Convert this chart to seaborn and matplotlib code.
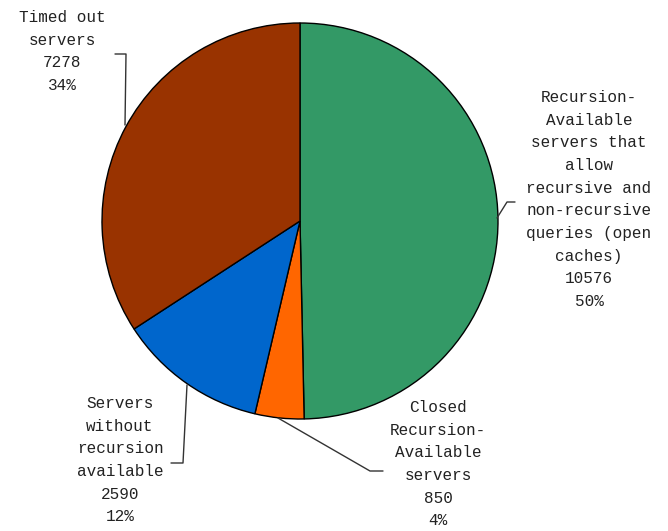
import matplotlib
matplotlib.use("Agg")
import matplotlib.pyplot as plt
import seaborn as sns

# data
labels = [
    "Recursion-\nAvailable\nservers that\nallow\nrecursive and\nnon-recursive\nqueries (open\ncaches)",
    "Closed\nRecursion-\nAvailable\nservers",
    "Servers\nwithout\nrecursion\navailable",
    "Timed out\nservers",
]
counts = [10576, 850, 2590, 7278]
colors = ["#339966", "#FF6600", "#0066CC", "#993300"]

sns.set_theme(style="white")
plt.rcParams["font.family"] = ["Liberation Mono", "DejaVu Sans Mono"]

W, H = 668, 531
fig = plt.figure(figsize=(W / 100, H / 100), dpi=100)
ax = fig.add_axes([0, 0, 1, 1])

cx, cy, r = 300, 221, 198
# y axis is inverted, so counterclock=True draws clockwise on screen
ax.pie(counts, colors=colors, startangle=-90, counterclock=True,
       center=(cx, cy), radius=r, frame=True,
       wedgeprops=dict(edgecolor="black", linewidth=1))
ax.set_xlim(0, W)
ax.set_ylim(H, 0)
ax.set_aspect("equal")
ax.axis("off")

total = sum(counts)
# top of first text line for each label
label_pos = [(589, 90), (438, 400), (120, 396), (62, 10)]
leaders = [
    [(497, 218), (507, 202), (515, 202)],
    [(278, 418), (370, 471), (383, 471)],
    [(187, 385), (183, 463), (171, 463)],
    [(125, 125), (126, 54), (115, 54)],
]
for lab, n, (x, y), ln in zip(labels, counts, label_pos, leaders):
    pct = round(100 * n / total)
    ax.text(x, y, f"{lab}\n{n}\n{pct}%", ha="center", va="top",
            fontsize=11.5, linespacing=1.64, color="#222222")
    xs, ys = zip(*ln)
    ax.plot(xs, ys, color="#333333", linewidth=1)

fig.savefig("out.png", dpi=100)
